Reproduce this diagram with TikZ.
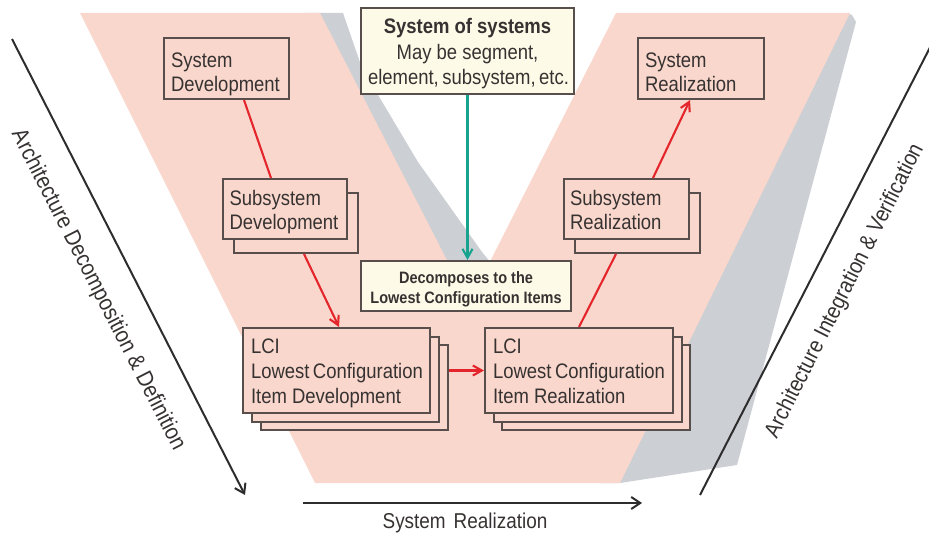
\documentclass[tikz,border=0pt]{standalone}
\usepackage{fontspec}
\setmainfont{Liberation Sans}[FakeStretch=0.88]
\usetikzlibrary{arrows.meta}

\definecolor{vpink}{RGB}{249,215,204}
\definecolor{vshadow}{RGB}{204,207,212}
\definecolor{cream}{RGB}{253,251,231}
\definecolor{boxline}{RGB}{88,78,75}
\definecolor{flowred}{RGB}{228,38,44}
\definecolor{flowteal}{RGB}{24,163,142}
\definecolor{axisgray}{RGB}{45,45,45}
\definecolor{txtgray}{RGB}{55,50,50}

% multi-line box contents, first baseline on the node's base line, no hyphenation
\newcommand\boxlines[2]{\parbox[t]{#1}{\raggedright\hyphenpenalty=10000 \hfuzz=\maxdimen #2}}
\newcommand\boxcentered[2]{\parbox[t]{#1}{\centering\hyphenpenalty=10000 \hfuzz=\maxdimen #2}}

\begin{document}
\begin{tikzpicture}[x=1pt,y=-1pt,
  card/.style={draw=boxline, line width=2pt, fill=vpink, anchor=north west,
    inner ysep=0pt, text=txtgray, font=\fontsize{21}{24}\selectfont},
  backcard/.style={card, inner sep=0pt},
  notecard/.style={card, fill=cream},
  flow/.style={draw=flowred, line width=2.1pt},
  flowarrow/.style={flow, -{Straight Barb[length=9pt,width=10pt]}},
  tealarrow/.style={draw=flowteal, line width=2.1pt, -{Straight Barb[length=9pt,width=10pt]}},
  axis/.style={draw=axisgray, line width=2pt, -{Straight Barb[length=9pt,width=12pt]}},
  axislabel/.style={text=txtgray, font=\fontsize{23}{26}\selectfont, inner sep=0pt}]

\useasboundingbox (0,0) rectangle (929,535);

% the V band with its grey shadows
\fill[vshadow] (846,13) -- (852,15) -- (856,22) -- (737,465) -- (620,483) -- (600,483) -- cycle;
\fill[vshadow] (305,13) -- (343,13) -- (362,68) -- (418,162) -- (482,252) -- (495,268)
  -- (469,303) -- (440,303) -- cycle;
\fill[vpink] (80,13) -- (320,13) -- (469,303) -- (616,13) -- (850,13) -- (620,483) -- (315,483) -- cycle;

% axes
\coordinate (lda) at (12,39);
\coordinate (ldb) at (245,495);
\coordinate (rib) at (700,495);
\coordinate (ria) at (940,28);
\coordinate (bta) at (303,503);
\coordinate (btb) at (642,503);
\draw[axis] (lda) -- (ldb);
\draw[axis] (rib) -- (ria);
\draw[axis] (bta) -- (btb);

\node[axislabel, rotate=-62.9] (ldlabel) at (98,290) {Architecture Decomposition \& Definition};
\node[axislabel, font=\fontsize{22.5}{26}\selectfont, rotate=63.2] (rilabel) at (845,291) {Architecture Integration \& Verification};
\node[axislabel, font=\fontsize{21.5}{24}\selectfont, anchor=base] (btlabel) at (465,528) {System\hspace{8pt}Realization};

% left branch
\node[card, inner xsep=7pt, text height=30pt, text depth=31pt] (sd) at (163,37)
  {\boxlines{111pt}{System\\Development}};
\node[backcard, minimum width=124pt, minimum height=60pt] (ssdb) at (233,192) {};
\node[card, inner xsep=6.5pt, text height=26pt, text depth=34pt] (ssd) at (222,178)
  {\boxlines{111pt}{Subsystem\\Development}};
\node[backcard, minimum width=187pt, minimum height=85pt] (lcid3) at (260,344) {};
\node[backcard, minimum width=187pt, minimum height=85pt] (lcid2) at (251,335.5) {};
\node[card, inner xsep=8pt, text height=25pt, text depth=60pt, font=\fontsize{21}{25}\selectfont] (lcid) at (242,327)
  {\boxlines{171pt}{LCI\\Lowest~Configuration\\Item~Development}};

% right branch
\node[backcard, minimum width=188pt, minimum height=85pt] (lcir3) at (501,344) {};
\node[backcard, minimum width=188pt, minimum height=85pt] (lcir2) at (492.5,335.5) {};
\node[card, inner xsep=8pt, text height=25pt, text depth=60pt, font=\fontsize{21}{25}\selectfont] (lcir) at (484,327)
  {\boxlines{172pt}{LCI\\Lowest~Configuration\\Item~Realization}};
\node[backcard, minimum width=125pt, minimum height=60pt] (ssrb) at (574,192) {};
\node[card, inner xsep=6pt, text height=26pt, text depth=34pt] (ssr) at (563,178)
  {\boxlines{113pt}{Subsystem\\Realization}};
\node[card, inner xsep=7pt, text height=30pt, text depth=31pt] (sr) at (637,37)
  {\boxlines{112pt}{System\\Realization}};

% notes in the middle
\node[notecard, inner xsep=7pt, text height=26pt, text depth=60pt, font=\fontsize{21}{25.5}\selectfont] (sos) at (360,7)
  {\boxcentered{199pt}{\textbf{System~of~systems}\\May~be~segment,\\element,~subsystem,~etc.}};
\node[notecard, inner xsep=7pt, text height=22pt, text depth=28pt, font=\bfseries\fontsize{16.5}{20}\selectfont] (dec) at (360,260)
  {\boxcentered{196pt}{Decomposes~to~the\\Lowest~Configuration~Items}};

% flow connectors
\draw[flow] ([xshift=17.5pt]sd.south) -- ([xshift=-14pt]ssd.north);
\draw[flowarrow] ([xshift=8pt]ssdb.south) -- ([xshift=2.5pt]lcid.north);
\draw[flowarrow] (lcid.east -| lcid3.east) -- (lcir.west);
\draw[flow] (lcir.north) -- ([xshift=-21.5pt]ssrb.south);
\draw[flowarrow] ([xshift=26.5pt]ssr.north) -- ([xshift=-11pt]sr.south);
\draw[tealarrow] (sos.south) -- (sos.south |- dec.north);

\end{tikzpicture}
\end{document}
